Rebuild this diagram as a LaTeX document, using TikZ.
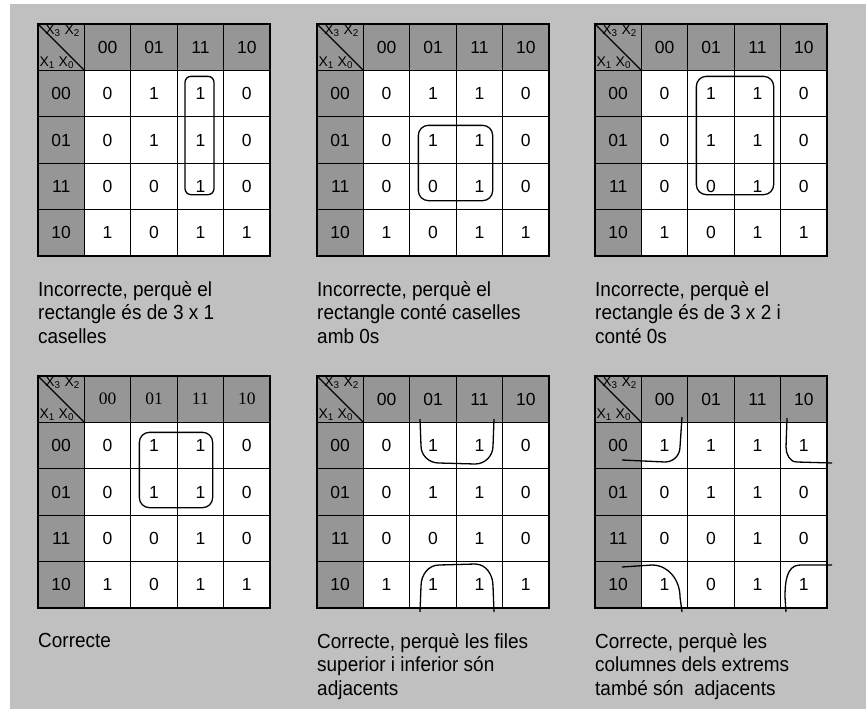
\documentclass[tikz,border=0pt]{standalone}
\usepackage{fontspec}
\setmainfont{Liberation Sans}
\newfontfamily\timesfont{Liberation Serif}
\newfontfamily\narrowfont[FakeStretch=0.93]{Liberation Sans}
\usetikzlibrary{positioning}
\definecolor{panelgray}{RGB}{192,192,192}
\definecolor{headgray}{RGB}{150,150,150}

\newcommand{\cellfont}{\fontsize{17.5}{19}\selectfont}
\newcommand{\varfont}{\fontsize{14}{15}\selectfont}
\newcommand{\notefont}{\narrowfont\fontsize{20.4}{23.5}\selectfont}

% one Karnaugh map: name, header font, rows of values
\newcommand{\kmap}[3]{%
  \node[headcell] (#1-c) at (23.2,23.2) {};
  \draw[grid] (#1-c.north west) -- (#1-c.south east);
  \node[varlabel, anchor=north east] (#1-x32) at ([xshift=-5pt,yshift=-1pt]#1-c.north east) {X\textsubscript{3} X\textsubscript{2}};
  \node[varlabel, anchor=south west] (#1-x10) at ([xshift=2pt,yshift=2pt]#1-c.south west) {X\textsubscript{1} X\textsubscript{0}};
  \foreach \lab [count=\i] in {00,01,11,10} {
    \node[headcell, font=#2] (#1-h\i) at (\i*46.4+23.2,23.2) {\lab};
    \node[headcell] (#1-v\i) at (23.2,\i*46.4+23.2) {\lab};
  }
  \foreach \rowvals [count=\r] in {#3}
    \foreach \v [count=\c] in \rowvals
      \node[cell] (#1-\r\c) at (\c*46.4+23.2,\r*46.4+23.2) {\v};
}

\tikzset{
  grid/.style={line width=1.3pt},
  cell/.style={draw, line width=1.3pt, fill=white, minimum size=46.4pt, inner sep=0pt, font=\cellfont},
  headcell/.style={cell, fill=headgray},
  varlabel/.style={inner sep=0pt, font=\varfont},
  loopline/.style={line width=1.3pt, rounded corners=#1},
  loopline/.default=10pt,
  note/.style={align=left, inner sep=0pt, font=\notefont},
}

\begin{document}
\begin{tikzpicture}[x=1pt, y=-1pt]
  \useasboundingbox (0,0) rectangle (866,709);
  \fill[panelgray] (10,4) rectangle (866,709);

  % top row
  \begin{scope}[shift={(38,24)}]
    \kmap{t1}{\cellfont}{{0,1,1,0},{0,1,1,0},{0,0,1,0},{1,0,1,1}}
    \draw[loopline=6pt] ([xshift=-15.4pt,yshift=-6.6pt]t1-13.north) rectangle ([xshift=13.6pt,yshift=15.6pt]t1-33.south);
  \end{scope}
  \begin{scope}[shift={(317,24)}]
    \kmap{t2}{\cellfont}{{0,1,1,0},{0,1,1,0},{0,0,1,0},{1,0,1,1}}
    \draw[loopline] ([xshift=9.2pt,yshift=-9.2pt]t2-22.north west) rectangle ([xshift=-10.6pt,yshift=9.6pt]t2-33.south east);
  \end{scope}
  \begin{scope}[shift={(595,24)}]
    \kmap{t3}{\cellfont}{{0,1,1,0},{0,1,1,0},{0,0,1,0},{1,0,1,1}}
    \draw[loopline] ([xshift=9.2pt,yshift=-6.6pt]t3-12.north west) rectangle ([xshift=-7.6pt,yshift=15.6pt]t3-33.south east);
  \end{scope}

  \node[note, anchor=north west] (n1) at (38,281) {Incorrecte, perquè el\\rectangle és de 3 x 1\\caselles};
  \node[note, anchor=north west] (n2) at (317,281) {Incorrecte, perquè el\\rectangle conté caselles\\amb 0s};
  \node[note, anchor=north west] (n3) at (595,281) {Incorrecte, perquè el\\rectangle és de 3 x 2 i\\conté 0s};

  % bottom row
  \begin{scope}[shift={(38,376)}]
    \kmap{t4}{\timesfont\cellfont}{{0,1,1,0},{0,1,1,0},{0,0,1,0},{1,0,1,1}}
    \draw[loopline] ([xshift=9.2pt,yshift=-10.6pt]t4-12.north west) rectangle ([xshift=-11.6pt,yshift=8.2pt]t4-23.south east);
  \end{scope}
  \begin{scope}[shift={(317,376)}]
    \kmap{t5}{\cellfont}{{0,1,1,0},{0,1,1,0},{0,0,1,0},{1,1,1,1}}
    \draw[line width=1.3pt] (103,43) -- (104,70) to[out=-90,in=180] (122,87) -- (158,88) to[out=0,in=-90] (176,70) -- (177,43);
    \draw[line width=1.3pt] (103,236) -- (104,210) to[out=90,in=180] (122,189) -- (158,188) to[out=0,in=90] (176,210) -- (177,236);
  \end{scope}
  \begin{scope}[shift={(595,376)}]
    \kmap{t6}{\cellfont}{{1,1,1,1},{0,1,1,0},{0,0,1,0},{1,0,1,1}}
    \draw[line width=1.3pt] (87,41) -- (85,71) to[out=-90,in=0] (70,86) -- (27,84);
    \draw[line width=1.3pt] (192,42) -- (191,71) to[out=-90,in=180] (202,86) -- (237,87);
    \draw[line width=1.3pt] (27,191) -- (57,189) to[out=0,in=90] (85,221) -- (87,236);
    \draw[line width=1.3pt] (237,189) -- (205,189) to[out=180,in=90] (190,221) -- (191,236);
  \end{scope}

  \node[note, anchor=north west] (n4) at (38,633) {Correcte};
  \node[note, anchor=north west] (n5) at (317,633) {Correcte, perquè les files\\superior i inferior són\\adjacents};
  \node[note, anchor=north west] (n6) at (595,633) {Correcte, perquè les\\columnes dels extrems\\també són~ adjacents};
\end{tikzpicture}
\end{document}
